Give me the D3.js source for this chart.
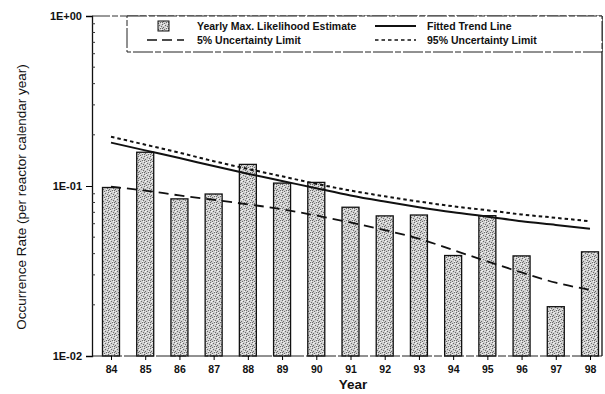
<!DOCTYPE html>
<html><head><meta charset="utf-8">
<script src="https://cdn.jsdelivr.net/npm/d3@7"></script>
<style>body{margin:0;background:#fff}svg{display:block}</style>
</head><body>
<svg id="c" width="605" height="394"></svg>
<script>
const years = ["84","85","86","87","88","89","90","91","92","93","94","95","96","97","98"];
const mleValues = [0.098,0.158,0.084,0.0897,0.134,0.104,0.105,0.075,0.0667,0.0675,0.039,0.0669,0.0388,0.0195,0.041];
const trendValues = [0.180,0.162,0.146,0.131,0.118,0.107,0.097,0.088,0.081,0.075,0.070,0.066,0.062,0.059,0.056];
const upper95Values = [0.195,0.175,0.157,0.140,0.126,0.114,0.103,0.094,0.087,0.081,0.076,0.072,0.068,0.065,0.062];
const lower5Values = [0.099,0.094,0.088,0.083,0.078,0.073,0.067,0.061,0.055,0.049,0.042,0.036,0.031,0.027,0.0245];
const yTickValues = [1, 0.1, 0.01];
const yTickLabels = ["1E+00","1E-01","1E-02"];
const legendLabels = ["Yearly Max. Likelihood Estimate","5% Uncertainty Limit","Fitted Trend Line","95% Uncertainty Limit"];

const svg = d3.select("#c");
const L = 92, R = 602, T = 16, B = 356;
const x = d3.scalePoint().domain(years).range([111, 590]);
const y = d3.scaleLog().domain([0.01, 1]).range([B, T]);
const barW = 17;
const font = "'Liberation Sans', Arial, sans-serif";

// stipple pattern
const defs = svg.append("defs");
const pat = defs.append("pattern").attr("id","stip").attr("patternUnits","userSpaceOnUse").attr("width",6).attr("height",6);
pat.append("rect").attr("width",6).attr("height",6).attr("fill","#cfcfcf");
[[0,0],[3,1],[1,3],[4,4],[5,2],[2,5],[0,4]].forEach(([a,b])=>pat.append("rect").attr("x",a).attr("y",b).attr("width",1).attr("height",1).attr("fill","#6a6a6a"));
[[2,0],[5,5],[1,1],[4,3]].forEach(([a,b])=>pat.append("rect").attr("x",a).attr("y",b).attr("width",1).attr("height",1).attr("fill","#f4f4f4"));

// bars
svg.append("g").selectAll("rect").data(years).join("rect")
  .attr("x", d => x(d) - barW/2)
  .attr("y", (d,i) => y(mleValues[i]))
  .attr("width", barW)
  .attr("height", (d,i) => B - y(mleValues[i]))
  .attr("fill","url(#stip)").attr("stroke","#111").attr("stroke-width",1.3);

// lines
const line = vals => d3.line().x((d,i)=>x(years[i])).y(d=>y(d)).curve(d3.curveMonotoneX)(vals);
svg.append("path").attr("d", line(upper95Values)).attr("fill","none").attr("stroke","#111").attr("stroke-width",2).attr("stroke-dasharray","3.5,3");
svg.append("path").attr("d", line(trendValues)).attr("fill","none").attr("stroke","#111").attr("stroke-width",2);
svg.append("path").attr("d", line(lower5Values)).attr("fill","none").attr("stroke","#111").attr("stroke-width",1.8).attr("stroke-dasharray","10,6");

// frame
svg.append("line").attr("x1",L).attr("x2",R).attr("y1",T).attr("y2",T).attr("stroke","#333").attr("stroke-width",1).attr("stroke-dasharray","18,2,6,2");
svg.append("line").attr("x1",L).attr("x2",R).attr("y1",B).attr("y2",B).attr("stroke","#222").attr("stroke-width",1).attr("stroke-dasharray","20,2,8,2");
svg.append("line").attr("x1",R).attr("x2",R).attr("y1",T).attr("y2",B).attr("stroke","#111").attr("stroke-width",1.3);

// y axis
const yAxis = d3.axisLeft(y).tickValues(yTickValues).tickSize(6).tickPadding(4).tickFormat((d,i)=>yTickLabels[i]);
const gy = svg.append("g").attr("transform",`translate(${L},0)`).call(yAxis);
gy.select(".domain").attr("stroke","#111").attr("stroke-width",1.3);
gy.selectAll("text").attr("font-family",font).attr("font-size",11).attr("font-weight","bold").attr("fill","#111");
// minor ticks inside
const minor = [];
[0.01,0.1].forEach(b=>{for(let k=2;k<=9;k++) minor.push(b*k);});
svg.append("g").selectAll("line").data(minor).join("line")
  .attr("x1",L).attr("x2",L+3).attr("y1",d=>y(d)).attr("y2",d=>y(d)).attr("stroke","#333").attr("stroke-width",1);

// x axis
const xAxis = d3.axisBottom(x).tickSize(4).tickPadding(6);
const gx = svg.append("g").attr("transform",`translate(0,${B})`).call(xAxis);
gx.select(".domain").remove();
gx.selectAll("text").attr("font-family",font).attr("font-size",10.5).attr("font-weight","bold").attr("fill","#111");

// axis titles
svg.append("text").attr("x",353).attr("y",389).attr("text-anchor","middle").attr("font-family",font).attr("font-size",13.5).attr("font-weight","bold").attr("fill","#111").text("Year");
svg.append("text").attr("transform","translate(26,197) rotate(-90)").attr("text-anchor","middle").attr("font-family",font).attr("font-size",13.5).attr("fill","#111").text("Occurrence Rate (per reactor calendar year)");

// legend
const lg = svg.append("g");
lg.append("rect").attr("x",127).attr("y",T).attr("width",R-127).attr("height",36).attr("fill","#fff").attr("stroke","#222").attr("stroke-width",1).attr("stroke-dasharray","20,2,6,2");
lg.append("rect").attr("x",158).attr("y",21).attr("width",11).attr("height",10).attr("fill","url(#stip)").attr("stroke","#111").attr("stroke-width",1);
lg.append("line").attr("x1",147).attr("x2",184).attr("y1",40).attr("y2",40).attr("stroke","#111").attr("stroke-width",1.6).attr("stroke-dasharray","10,5");
lg.append("line").attr("x1",375).attr("x2",416).attr("y1",26).attr("y2",26).attr("stroke","#111").attr("stroke-width",2.2);
lg.append("line").attr("x1",375).attr("x2",416).attr("y1",40).attr("y2",40).attr("stroke","#111").attr("stroke-width",1.6).attr("stroke-dasharray","3.5,3");
const lt = [[197,29.5,0],[197,44,1],[427,29.5,2],[427,44,3]];
lg.selectAll("text").data(lt).join("text").attr("x",d=>d[0]).attr("y",d=>d[1])
  .attr("font-family",font).attr("font-size",10.5).attr("font-weight","bold").attr("fill","#111").text(d=>legendLabels[d[2]]);
</script>
</body></html>
